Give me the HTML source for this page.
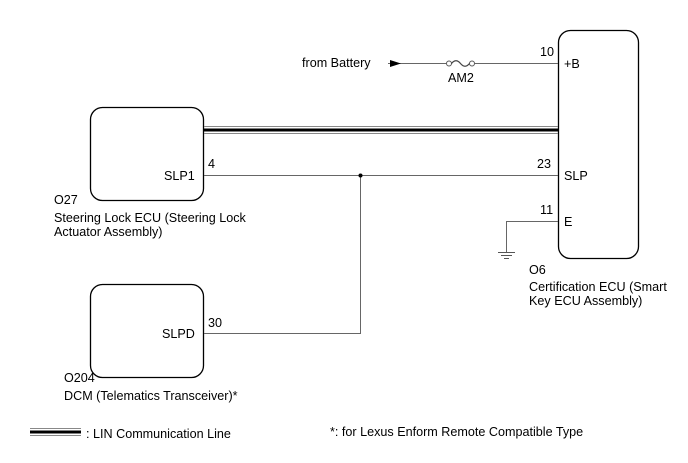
<!DOCTYPE html>
<html><head><meta charset="utf-8"><style>
html,body{margin:0;padding:0;background:#fff;}
svg{display:block;}
text{font-family:"Liberation Sans",sans-serif;font-size:12.6px;fill:#000;}
</style></head><body>
<svg width="688" height="463" viewBox="0 0 688 463" xmlns="http://www.w3.org/2000/svg">
<rect x="90.5" y="107.5" width="113" height="93" rx="12" fill="#fff" stroke="#000" stroke-width="1.3"/>
<rect x="90.5" y="284.5" width="113" height="93" rx="12" fill="#fff" stroke="#000" stroke-width="1.3"/>
<rect x="558.5" y="30.5" width="80" height="228" rx="12" fill="#fff" stroke="#000" stroke-width="1.3"/>
<line x1="204" y1="126.5" x2="558" y2="126.5" stroke="#888" stroke-width="1"/>
<line x1="204" y1="130" x2="558" y2="130" stroke="#000" stroke-width="3"/>
<line x1="204" y1="133.5" x2="558" y2="133.5" stroke="#888" stroke-width="1"/>
<line x1="388" y1="63.5" x2="446" y2="63.5" stroke="#666" stroke-width="1"/>
<polygon points="390,60 401,63.5 390,67" fill="#000"/>
<circle cx="449" cy="63.5" r="2.5" fill="#fff" stroke="#555" stroke-width="1"/>
<circle cx="472" cy="63.5" r="2.5" fill="#fff" stroke="#555" stroke-width="1"/>
<path d="M451.5,63.5 Q456,58 460.5,63.5 T469.5,63.5" fill="none" stroke="#444" stroke-width="1.2"/>
<line x1="474.5" y1="63.5" x2="558" y2="63.5" stroke="#666" stroke-width="1"/>
<line x1="204" y1="175.5" x2="558" y2="175.5" stroke="#666" stroke-width="1"/>
<line x1="360.5" y1="175" x2="360.5" y2="333" stroke="#666" stroke-width="1"/>
<line x1="204" y1="333.5" x2="361" y2="333.5" stroke="#666" stroke-width="1"/>
<circle cx="360.5" cy="175.5" r="2" fill="#000"/>
<polyline points="558,221.5 506.5,221.5 506.5,252" fill="none" stroke="#666" stroke-width="1"/>
<line x1="498" y1="252.5" x2="515" y2="252.5" stroke="#555" stroke-width="1"/>
<line x1="501" y1="255.5" x2="512" y2="255.5" stroke="#555" stroke-width="1"/>
<line x1="504" y1="258.5" x2="509" y2="258.5" stroke="#555" stroke-width="1"/>
<text x="302" y="67">from Battery</text>
<text x="448" y="82">AM2</text>
<text x="540" y="56">10</text>
<text x="564" y="68">+B</text>
<text x="537" y="168">23</text>
<text x="564" y="180">SLP</text>
<text x="540" y="214">11</text>
<text x="564" y="226">E</text>
<text x="208" y="168">4</text>
<text x="164" y="180">SLP1</text>
<text x="208" y="327">30</text>
<text x="162" y="338">SLPD</text>
<text x="54" y="204">O27</text>
<text x="54" y="222">Steering Lock ECU (Steering Lock</text>
<text x="54" y="236">Actuator Assembly)</text>
<text x="64" y="382">O204</text>
<text x="64" y="400">DCM (Telematics Transceiver)*</text>
<text x="529" y="274">O6</text>
<text x="529" y="291">Certification ECU (Smart</text>
<text x="529" y="305">Key ECU Assembly)</text>
<line x1="30" y1="428.5" x2="81" y2="428.5" stroke="#888" stroke-width="1"/>
<line x1="30" y1="432" x2="81" y2="432" stroke="#000" stroke-width="3"/>
<line x1="30" y1="435.5" x2="81" y2="435.5" stroke="#888" stroke-width="1"/>
<text x="86" y="438">: LIN Communication Line</text>
<text x="330" y="436">*: for Lexus Enform Remote Compatible Type</text>
</svg>
</body></html>
